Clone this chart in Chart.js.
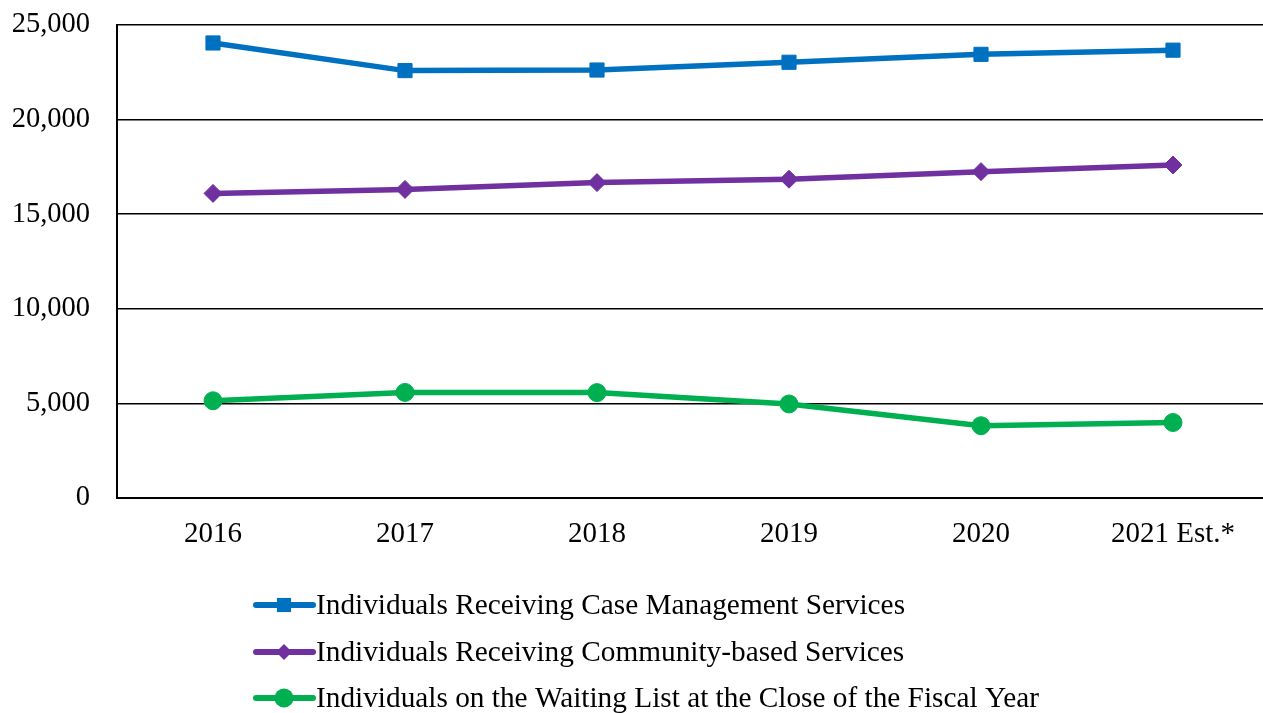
<!DOCTYPE html>
<html>
<head>
<meta charset="utf-8">
<script src="https://cdn.jsdelivr.net/npm/chart.js@4/dist/chart.umd.min.js"></script>
<style>
  html, body { margin: 0; padding: 0; background: #fff; overflow: hidden; }
  #wrap { position: absolute; left: 0; top: 0; width: 1280px; height: 713px; }
</style>
</head>
<body>
<div id="wrap"><canvas id="servicesChart" width="1280" height="713"></canvas></div>
<script>
const years = ["2016", "2017", "2018", "2019", "2020", "2021 Est.*"];

const caseManagement = [24050, 22590, 22620, 23030, 23450, 23670];
const communityBased = [16100, 16310, 16670, 16850, 17250, 17600];
const waitingList = [5140, 5580, 5570, 4970, 3820, 3990];

const yTicks = [0, 5000, 10000, 15000, 20000, 25000];

const FONT = "'Liberation Serif', 'Times New Roman', serif";

function formatNumber(n) {
  return Number(n).toLocaleString("en-US");
}

function drawMarker(ctx, style, x, y, r, color) {
  ctx.fillStyle = color;
  ctx.beginPath();
  if (style === "rect") {
    const s = r * Math.SQRT1_2;
    ctx.rect(x - s, y - s, s * 2, s * 2);
  } else if (style === "rectRot") {
    ctx.moveTo(x, y - r);
    ctx.lineTo(x + r, y);
    ctx.lineTo(x, y + r);
    ctx.lineTo(x - r, y);
    ctx.closePath();
  } else {
    ctx.arc(x, y, r, 0, Math.PI * 2);
  }
  ctx.fill();
}

// legend under the plot: short line with the series marker in the middle
const lineLegend = {
  id: "lineLegend",
  afterDraw(chart) {
    const ctx = chart.ctx;
    const left = 253;
    const rows = [605, 652, 698];
    ctx.save();
    chart.data.datasets.forEach(function (ds, i) {
      const y = rows[i];
      ctx.strokeStyle = ds.borderColor;
      ctx.lineWidth = 6;
      ctx.lineCap = "round";
      ctx.beginPath();
      ctx.moveTo(left + 3, y);
      ctx.lineTo(left + 60, y);
      ctx.stroke();
      drawMarker(ctx, ds.pointStyle, left + 31, y, ds.legendRadius, ds.borderColor);
      ctx.fillStyle = "#000";
      ctx.font = "29.3px " + FONT;
      ctx.textAlign = "left";
      ctx.textBaseline = "middle";
      ctx.fillText(ds.label, left + 63, y + 1);
    });
    ctx.restore();
  }
};

const ctx = document.getElementById("servicesChart").getContext("2d");

new Chart(ctx, {
  type: "line",
  data: {
    labels: years,
    datasets: [
      {
        label: "Individuals Receiving Case Management Services",
        data: caseManagement,
        borderColor: "#0070C0",
        backgroundColor: "#0070C0",
        borderWidth: 5.5,
        pointStyle: "rect",
        pointRadius: 10,
        pointBorderWidth: 1,
        legendRadius: 10
      },
      {
        label: "Individuals Receiving Community-based Services",
        data: communityBased,
        borderColor: "#7030A0",
        backgroundColor: "#7030A0",
        borderWidth: 5.5,
        pointStyle: "rectRot",
        pointRadius: 9,
        pointBorderWidth: 1,
        legendRadius: 8
      },
      {
        label: "Individuals on the Waiting List at the Close of the Fiscal Year",
        data: waitingList,
        borderColor: "#00B050",
        backgroundColor: "#00B050",
        borderWidth: 5.5,
        pointStyle: "circle",
        pointRadius: 9,
        pointBorderWidth: 1,
        legendRadius: 9.5
      }
    ]
  },
  options: {
    responsive: false,
    animation: false,
    layout: {
      padding: { top: 25, right: 8, left: 0, bottom: 0 }
    },
    plugins: {
      legend: { display: false },
      tooltip: { enabled: false }
    },
    scales: {
      x: {
        offset: true,
        grid: { display: false, drawTicks: false },
        border: { color: "#000", width: 2 },
        ticks: {
          color: "#000",
          padding: 19,
          font: { family: FONT, size: 29 }
        },
        afterFit(scale) {
          scale.height = 215;
          scale.paddingLeft = 0;
          scale.paddingRight = 0;
        }
      },
      y: {
        min: 0,
        max: 25000,
        afterBuildTicks(scale) {
          scale.ticks = yTicks.map(function (v) { return { value: v }; });
        },
        grid: { color: "#000", lineWidth: 1.5, drawTicks: false },
        border: { color: "#000", width: 2 },
        ticks: {
          color: "#000",
          padding: 27,
          font: { family: FONT, size: 28.5 },
          callback: function (value) { return formatNumber(value); }
        },
        afterFit(scale) {
          scale.width = 117;
          scale.paddingTop = 0;
          scale.paddingBottom = 0;
        }
      }
    }
  },
  plugins: [lineLegend]
});
</script>
</body>
</html>
